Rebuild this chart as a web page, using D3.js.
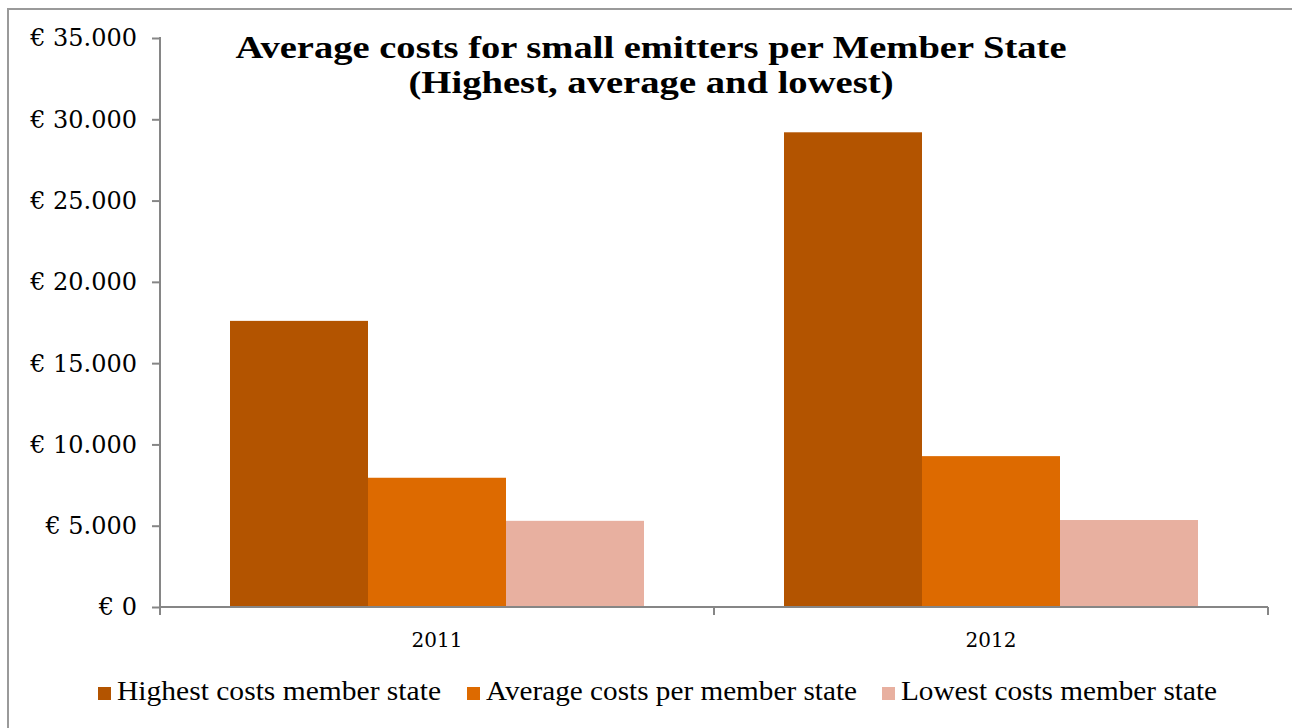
<!DOCTYPE html>
<html><head><meta charset="utf-8">
<script src="https://cdn.jsdelivr.net/npm/d3@7"></script>
<style>html,body{margin:0;padding:0;background:#fff;overflow:hidden}</style>
</head><body>
<svg id="chart" width="1292" height="728"></svg>
<script>
const categories = ["2011", "2012"];
const seriesNames = ["Highest costs member state", "Average costs per member state", "Lowest costs member state"];
const highest = [17600, 29200];
const average = [7950, 9280];
const lowest = [5300, 5350];
const yTicks = [0, 5000, 10000, 15000, 20000, 25000, 30000, 35000];
const yTickLabels = ["€ 0", "€ 5.000", "€ 10.000", "€ 15.000", "€ 20.000", "€ 25.000", "€ 30.000", "€ 35.000"];
const titleLines = ["Average costs for small emitters per Member State", "(Highest, average and lowest)"];
const colors = ["#B35400", "#DD6A00", "#E8B0A0"];

(function () {
const seriesValues = [highest, average, lowest];
const svg = d3.select("#chart");

// outer frame
svg.append("rect").attr("x", 8).attr("y", 9).attr("width", 1300).attr("height", 730)
  .attr("fill", "none").attr("stroke", "#9a9a9a").attr("stroke-width", 2);

const pLeft = 160, pRight = 1268, pTop = 38, pBottom = 607;
const x0 = d3.scaleBand().domain(categories).range([pLeft, pRight]).padding(0);
const x1 = d3.scaleBand().domain(d3.range(seriesNames.length)).range([70, x0.bandwidth() - 70]).padding(0);
const y = d3.scaleLinear().domain([0, 35000]).range([pBottom, pTop]);

// bars
const groups = svg.append("g").selectAll("g").data(categories).join("g")
  .attr("transform", d => `translate(${x0(d)},0)`);
groups.selectAll("rect").data((d, i) => seriesValues.map((s, k) => ({k, v: s[i]})))
  .join("rect")
  .attr("x", d => x1(d.k)).attr("width", x1.bandwidth())
  .attr("y", d => y(d.v)).attr("height", d => y(0) - y(d.v))
  .attr("fill", d => colors[d.k]);

// y axis
const yAxis = d3.axisLeft(y).tickValues(yTicks).tickSize(8)
  .tickFormat((d, i) => yTickLabels[i]);
const gy = svg.append("g").attr("transform", `translate(${pLeft},0)`).call(yAxis);
gy.select(".domain").attr("stroke", "#868686").attr("stroke-width", 2).attr("d", `M0,${pTop - 1}V${pBottom}`);
gy.selectAll(".tick line").attr("stroke", "#868686").attr("stroke-width", 2);
gy.selectAll(".tick text").attr("x", -23).attr("dy", "0.33em")
  .attr("font-family", "DejaVu Serif").attr("font-size", 24).attr("fill", "#000");

// x axis
const xAxis = d3.axisBottom(x0).tickSize(0).tickSizeOuter(0);
const gx = svg.append("g").attr("transform", `translate(0,${pBottom})`).call(xAxis);
gx.select(".domain").attr("stroke", "#868686").attr("stroke-width", 2).attr("d", `M${pLeft},0H${pRight}`);
gx.selectAll(".tick text").attr("y", 40).attr("dy", 0)
  .attr("font-family", "DejaVu Serif").attr("font-size", 20).attr("fill", "#000");
const sepTicks = [pLeft, ...categories.map(c => x0(c) + x0.bandwidth())];
gx.selectAll("line.sep").data(sepTicks).join("line").attr("class", "sep")
  .attr("x1", d => d).attr("x2", d => d).attr("y1", 0).attr("y2", 8)
  .attr("stroke", "#868686").attr("stroke-width", 2);

// title
const titleWidths = [831, 485];
svg.selectAll("text.title").data(titleLines).join("text").attr("class", "title")
  .attr("x", 651).attr("y", (d, i) => 58 + i * 35)
  .attr("text-anchor", "middle")
  .attr("font-family", "Liberation Serif").attr("font-weight", "bold").attr("font-size", 31)
  .attr("textLength", (d, i) => titleWidths[i]).attr("lengthAdjust", "spacingAndGlyphs")
  .text(d => d);

// legend
const legX = [98, 467, 882];
const legW = [324, 371, 316];
const leg = svg.append("g").selectAll("g").data(seriesNames).join("g")
  .attr("transform", (d, i) => `translate(${legX[i]},0)`);
leg.append("rect").attr("x", 0).attr("y", 687).attr("width", 13).attr("height", 13)
  .attr("fill", (d, i) => colors[i]);
leg.append("text").attr("x", 19).attr("y", 700)
  .attr("font-family", "Liberation Serif").attr("font-size", 27)
  .attr("textLength", (d, i) => legW[i]).attr("lengthAdjust", "spacingAndGlyphs")
  .text(d => d);
})();
</script>
</body></html>
